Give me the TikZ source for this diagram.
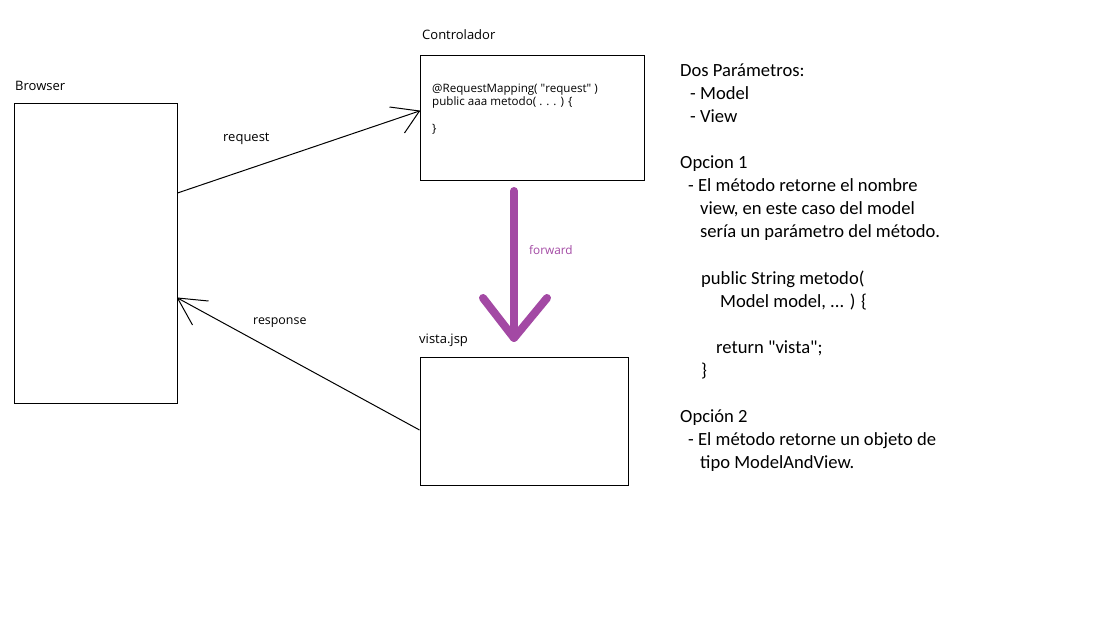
\documentclass[tikz,border=0pt]{standalone}
\usepackage{fontspec}
\setmainfont{Carlito}
\newfontfamily\uifont{Open Sans}
\definecolor{paintpurple}{HTML}{A349A4}
\begin{document}
\begin{tikzpicture}[x=1pt,y=-1pt,
  box/.style={draw=black, line width=1pt, inner sep=0pt, anchor=north west},
  lbl/.style={anchor=base west, inner sep=0pt, font=\uifont\fontsize{13}{15}\selectfont},
  code/.style={anchor=base west, inner sep=0pt, font=\uifont\fontsize{11.6}{13}\selectfont},
  txt/.style={anchor=base west, inner sep=0pt, font=\fontsize{18.6}{23}\selectfont},
  conn/.style={draw=black, line width=1pt},
  fwd/.style={draw=paintpurple, line width=8pt, line cap=round, line join=round}]
\useasboundingbox[fill=white] (0,0) rectangle (1106,628);

% boxes
\node[box, minimum width=163pt, minimum height=299pt] (browser) at (13.5,103.5) {};
\node[box, minimum width=224pt, minimum height=125pt] (ctrl) at (419.5,55.5) {};
\node[box, minimum width=208pt, minimum height=127pt] (vista) at (419.5,357.5) {};

% box labels
\node[lbl] (lbrowser) at (15,91) {Browser};
\node[lbl] (lctrl) at (422,40) {Controlador};
\node[lbl] (lvista) at (419,344) {vista.jsp};

% code in controller
\node[code] (c1) at (432,93) {@RequestMapping( \textquotedbl request\textquotedbl{} )};
\node[code] (c2) at (432,106) {public aaa metodo( . . . ) \{};
\node[code] (c3) at (432,133) {\}};

% request arrow
\coordinate (reqS) at (browser.east |- 0,193);
\coordinate (reqE) at (ctrl.west |- 0,111);
\draw[conn] (reqS) -- (reqE);
\draw[conn] (reqE) -- ++(-30,-4);
\draw[conn] (reqE) -- ++(-15,22);
\node[lbl] (lreq) at (223,141.5) {request};

% response arrow
\coordinate (respS) at (vista.west |- 0,430);
\coordinate (respE) at (browser.east |- 0,298);
\draw[conn] (respS) -- (respE);
\draw[conn] (respE) -- ++(31,3);
\draw[conn] (respE) -- ++(15,27);
\node[lbl, font=\uifont\fontsize{12.4}{14}\selectfont] (lresp) at (253,325) {response};

% forward arrow
\coordinate (fwS) at (514,191);
\coordinate (fwE) at (514,338);
\draw[fwd] (fwS) -- (fwE);
\draw[fwd] (483,298) -- (fwE) -- (547,298);
\node[lbl, text=paintpurple, font=\uifont\fontsize{11.8}{13}\selectfont] (lfwd) at (529,255) {forward};

% right text
\node[txt] (t1) at (680,77) {Dos Parámetros:};
\node[txt] (t2) at (690,100) {- Model};
\node[txt] (t3) at (690,123) {- View};
\node[txt] (t4) at (680,169) {Opcion 1};
\node[txt] (t5) at (688,192) {- El método retorne el nombre};
\node[txt] (t6) at (700,215) {view, en este caso del model};
\node[txt] (t7) at (700,238) {sería un parámetro del método.};
\node[txt] (t8) at (701,285) {public String metodo(};
\node[txt] (t9) at (720,308) {Model model, ... ) \{};
\node[txt] (t10) at (716,353) {return \textquotedbl vista\textquotedbl;};
\node[txt] (t11) at (701,376) {\}};
\node[txt] (t12) at (680,422) {Opción 2};
\node[txt] (t13) at (688,445) {- El método retorne un objeto de};
\node[txt] (t14) at (700,468) {tipo ModelAndView.};
\end{tikzpicture}
\end{document}
